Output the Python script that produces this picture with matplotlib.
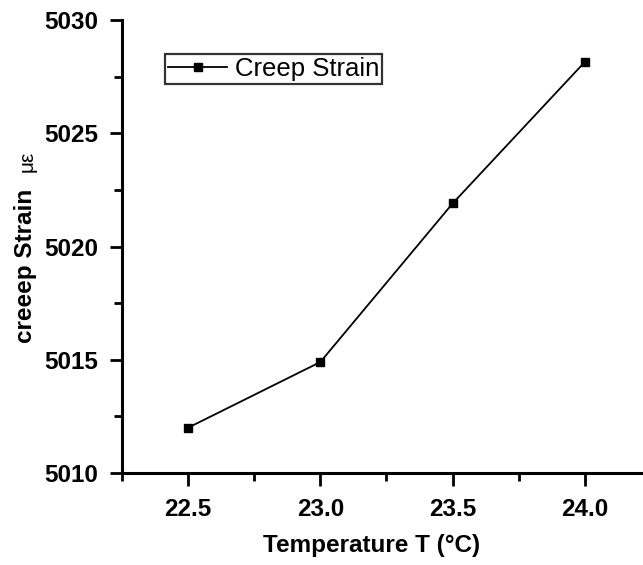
import matplotlib
matplotlib.use("Agg")
import matplotlib.pyplot as plt
from matplotlib.ticker import MultipleLocator

plt.rcParams['font.family'] = ['Liberation Sans', 'DejaVu Sans']

# creep strain measured at each temperature
temperature = [22.5, 23.0, 23.5, 24.0]
creep_strain = [5012.0, 5014.9, 5021.9, 5028.15]

fig = plt.figure(figsize=(6.43, 5.65), dpi=100)
ax = fig.add_axes([0.1897, 0.1628, 0.8227, 0.8018])

ax.plot(temperature, creep_strain, color='black', lw=1.3,
        marker='s', markersize=5.2, label='Creep Strain')

ax.set_xlim(22.25, 24.25)
ax.set_ylim(5010, 5030)
ax.xaxis.set_major_locator(MultipleLocator(0.5))
ax.xaxis.set_minor_locator(MultipleLocator(0.25))
ax.yaxis.set_major_locator(MultipleLocator(5))
ax.yaxis.set_minor_locator(MultipleLocator(2.5))
ax.xaxis.set_major_formatter(matplotlib.ticker.FormatStrFormatter('%.1f'))

for side in ['top', 'right']:
    ax.spines[side].set_visible(False)
for side in ['left', 'bottom']:
    ax.spines[side].set_linewidth(2.2)

ax.tick_params(which='major', direction='out', length=9, width=2.0,
               labelsize=17.5, pad=8)
ax.tick_params(which='minor', direction='out', length=5.8, width=2.0)
ax.tick_params(axis='x', which='major', pad=9)
for lbl in ax.get_xticklabels() + ax.get_yticklabels():
    lbl.set_fontweight('bold')

fig.text(0.578, 0.023, 'Temperature T (°C)', ha='center', va='baseline',
         fontsize=17.5, fontweight='bold')
fig.text(0.039, 0.530, 'creeep Strain', rotation=90, ha='center',
         va='center', fontsize=17.5, fontweight='bold')
fig.text(0.042, 0.715, 'με', rotation=90, ha='center', va='center',
         fontsize=15)

leg = ax.legend(loc='upper left', bbox_to_anchor=(0.2566, 0.9044),
                bbox_transform=fig.transFigure, fontsize=18.5,
                frameon=True, fancybox=False, borderpad=0.12,
                handlelength=2.3, handletextpad=0.3, borderaxespad=0)
leg.get_frame().set_edgecolor('black')
leg.get_frame().set_linewidth(1.6)

fig.savefig('out.png', dpi=100)
